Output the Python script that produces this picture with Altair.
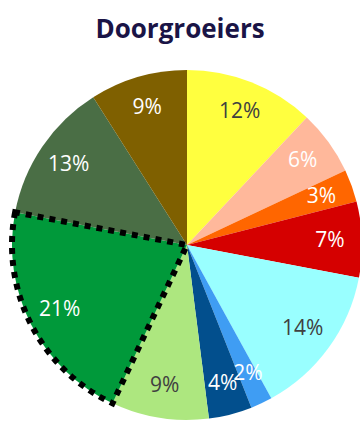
import altair as alt
import pandas as pd

# Share of "doorgroeiers" per group, clockwise from 12 o'clock
segments = ["G01", "G02", "G03", "G04", "G05", "G06", "G07", "G08", "G09", "G10", "G11"]
shares = [12, 6, 3, 7, 14, 2, 4, 9, 21, 13, 9]
labels = ["12%", "6%", "3%", "7%", "14%", "2%", "4%", "9%", "21%", "13%", "9%"]
highlighted = "G09"

slice_colors = ["#FFFF3F", "#FFB89B", "#FF6600", "#D50000", "#99FFFF", "#3F9DF3",
                "#024F8D", "#ADE77F", "#00993A", "#4A6E45", "#7F6000"]
label_colors = ["#404040", "#FFFFFF", "#FFFFFF", "#FFFFFF", "#404040", "#FFFFFF",
                "#FFFFFF", "#404040", "#FFFFFF", "#FFFFFF", "#FFFFFF"]

df = pd.DataFrame({
    "segment": segments,
    "share": shares,
    "label": labels,
    "order": list(range(len(segments))),
})

cx, cy = 187, 195
R = 175

base = alt.Chart(df).encode(
    theta=alt.Theta("share:Q", stack=True),
    order=alt.Order("order:Q", sort="ascending"),
    x=alt.value(cx),
    y=alt.value(cy),
)

pie = base.mark_arc(radius=R, stroke=None).encode(
    color=alt.Color("segment:N", scale=alt.Scale(domain=segments, range=slice_colors), legend=None),
)

# dotted outline around the highlighted slice
outline = base.mark_arc(
    radius=R, fillOpacity=0, stroke="black", strokeWidth=6, strokeDash=[6, 6], strokeCap="butt"
).encode(
    strokeOpacity=alt.condition(alt.datum.segment == highlighted, alt.value(1), alt.value(0)),
)

text = base.mark_text(radius=143, font="Open Sans", fontSize=21).encode(
    text="label:N",
    color=alt.Color("segment:N", scale=alt.Scale(domain=segments, range=label_colors), legend=None),
)

chart = alt.layer(pie, outline, text).resolve_scale(color="independent").properties(
    width=360,
    height=371,
    padding={"left": 0, "top": 50, "right": 0, "bottom": 0},
    autosize="none",
    title=alt.TitleParams(
        "Doorgroeiers", font="Open Sans", fontSize=26, fontWeight="bold",
        color="#1A1446", anchor="middle", baseline="alphabetic", offset=-14,
    ),
).configure_view(stroke=None)

chart.save("out.html", embed_options={"renderer": "svg", "actions": False})
